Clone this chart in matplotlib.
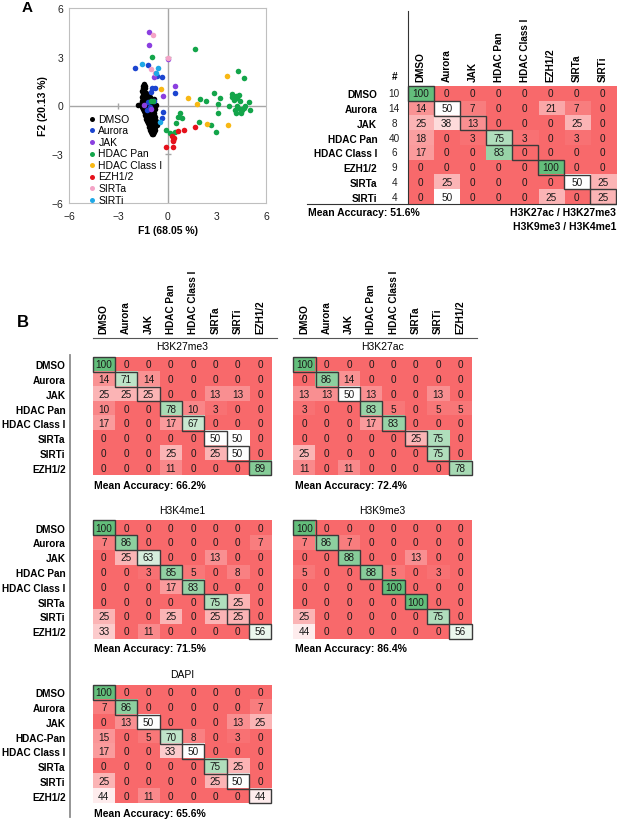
import matplotlib
matplotlib.use("Agg")
import matplotlib.pyplot as plt
import numpy as np
from matplotlib.colors import LinearSegmentedColormap
from matplotlib.patches import Rectangle
from matplotlib.lines import Line2D

plt.rcParams['font.family'] = ['Liberation Sans', 'DejaVu Sans']

# ---------------- data: panel A scatter (PCA scores) ----------------
groups = ["DMSO", "Aurora", "JAK", "HDAC Pan", "HDAC Class I", "EZH1/2", "SIRTa", "SIRTi"]
group_colors = ["#000000", "#1c45d0", "#8b3fe0", "#13a54a", "#f8b814", "#e5111b", "#f4a3c6", "#1fa8e6"]

dmso_pts = [(-1.45, 1.30), (-1.52, 1.20), (-1.40, 1.20), (-1.50, 1.05), (-1.35, 1.05),
            (-1.55, 0.90), (-1.42, 0.90), (-1.48, 0.80), (-1.30, 0.80),
            (-1.52, 0.65), (-1.38, 0.65), (-1.22, 0.65),
            (-1.55, 0.50), (-1.40, 0.50), (-1.25, 0.50), (-1.05, 0.50),
            (-1.48, 0.38), (-1.30, 0.38), (-1.12, 0.38), (-0.85, 0.38),
            (-1.55, 0.25), (-1.38, 0.25), (-1.20, 0.25), (-1.02, 0.25),
            (-1.60, 0.12), (-1.45, 0.12), (-1.28, 0.12), (-1.10, 0.12), (-0.80, 0.12),
            (-1.79, 0.02), (-1.50, 0.02), (-1.35, 0.02), (-1.15, 0.02), (-0.95, 0.02), (-0.72, 0.02),
            (-1.55, -0.10), (-1.40, -0.10), (-1.22, -0.10), (-1.05, -0.10), (-0.85, -0.10),
            (-1.48, -0.22), (-1.30, -0.22), (-1.12, -0.22), (-0.95, -0.22), (-0.75, -0.22),
            (-1.42, -0.35), (-1.25, -0.35), (-1.08, -0.35), (-0.88, -0.35),
            (-1.38, -0.48), (-1.20, -0.48), (-1.00, -0.48), (-0.80, -0.48),
            (-1.35, -0.60), (-1.18, -0.60), (-1.02, -0.60), (-0.85, -0.60),
            (-1.30, -0.72), (-1.12, -0.72), (-0.95, -0.72), (-0.75, -0.72),
            (-1.28, -0.85), (-1.10, -0.85), (-0.92, -0.85),
            (-1.25, -0.97), (-1.05, -0.97), (-0.85, -0.97), (-0.70, -0.97),
            (-1.20, -1.10), (-1.02, -1.10), (-0.88, -1.10),
            (-1.15, -1.22), (-0.98, -1.22), (-0.80, -1.22), (-0.65, -1.22),
            (-1.10, -1.35), (-0.95, -1.35), (-0.78, -1.35),
            (-1.05, -1.48), (-0.90, -1.48), (-0.75, -1.48),
            (-1.00, -1.60), (-0.85, -1.60), (-0.95, -1.75), (-0.88, -1.75)]
aurora_pts = [(-1.96, 2.30), (-1.18, 2.50), (-0.62, 1.80), (-0.32, 1.74), (-0.96, 1.10),
              (-0.75, 1.10), (0.45, 0.75), (-0.98, 0.82), (-1.16, 0.23), (-1.24, -0.29),
              (-0.29, -0.37), (-0.32, -0.74), (-0.80, 0.30), (-1.05, -0.10)]
jak_pts = [(-1.14, 4.51), (-1.10, 3.75), (0.06, 2.87), (-0.83, 1.74), (0.47, 1.19),
           (-0.26, 0.57), (-1.45, 0.02), (-0.98, -0.20)]
hdac_pan_pts = [(1.66, 3.49), (-0.96, 2.97), (4.31, 2.13), (4.68, 1.72), (2.85, 0.78),
                (3.19, 0.49), (1.99, 0.37), (2.34, 0.27), (3.07, 0.10), (3.05, -0.45),
                (3.90, 0.53), (3.95, 0.70), (4.15, 0.60), (4.25, 0.45), (4.35, 0.65),
                (4.40, 0.30), (4.98, 0.23), (4.70, 0.00), (3.74, 0.00), (4.68, -0.14),
                (5.00, -0.25), (4.25, -0.05), (4.40, -0.20), (4.10, -0.25), (4.45, -0.45),
                (4.15, -0.48), (4.55, -0.30), (0.79, -0.49), (0.67, -0.68), (0.91, -0.74),
                (0.51, -1.09), (1.93, -1.00), (2.64, -1.23), (2.97, -1.64), (-0.08, -1.48),
                (0.16, -1.70), (0.43, -1.66), (-0.99, 0.25), (-0.87, 0.30), (4.05, 0.35)]
hdac_c1_pts = [(-0.39, 1.00), (1.26, 0.45), (1.79, 0.10), (3.63, 1.83), (2.40, -1.15), (3.67, -1.17)]
ezh_pts = [(-0.10, -2.54), (0.32, -2.54), (0.35, -2.20), (0.38, -1.99), (0.30, -1.89),
           (0.61, -1.56), (0.98, -1.50), (1.69, -1.33), (0.36, -2.10)]
sirta_pts = [(-0.87, 4.35), (-0.98, 2.26), (-0.77, 2.01), (0.00, 2.95)]
sirti_pts = [(-1.54, 2.57), (-0.57, 2.32), (-0.73, 1.97), (-0.43, -1.03)]
scatter_sets = [dmso_pts, aurora_pts, jak_pts, hdac_pan_pts, hdac_c1_pts, ezh_pts, sirta_pts, sirti_pts]

# ---------------- data: panel A confusion matrix ----------------
a_labels = ["DMSO", "Aurora", "JAK", "HDAC Pan", "HDAC Class I", "EZH1/2", "SIRTa", "SIRTi"]
a_counts = [10, 14, 8, 40, 6, 9, 4, 4]
a_matrix = [[100, 0, 0, 0, 0, 0, 0, 0],
            [14, 50, 7, 0, 0, 21, 7, 0],
            [25, 38, 13, 0, 0, 0, 25, 0],
            [18, 0, 3, 75, 3, 0, 3, 0],
            [17, 0, 0, 83, 0, 0, 0, 0],
            [0, 0, 0, 0, 0, 100, 0, 0],
            [0, 25, 0, 0, 0, 0, 50, 25],
            [0, 50, 0, 0, 0, 25, 0, 25]]

# ---------------- data: panel B confusion matrices ----------------
b_cols = ["DMSO", "Aurora", "JAK", "HDAC Pan", "HDAC Class I", "SIRTa", "SIRTi", "EZH1/2"]
b_rows = ["DMSO", "Aurora", "JAK", "HDAC Pan", "HDAC Class I", "SIRTa", "SIRTi", "EZH1/2"]
b_rows_dapi = ["DMSO", "Aurora", "JAK", "HDAC-Pan", "HDAC Class I", "SIRTa", "SIRTi", "EZH1/2"]

h3k27me3 = [[100, 0, 0, 0, 0, 0, 0, 0],
            [14, 71, 14, 0, 0, 0, 0, 0],
            [25, 25, 25, 0, 0, 13, 13, 0],
            [10, 0, 0, 78, 10, 3, 0, 0],
            [17, 0, 0, 17, 67, 0, 0, 0],
            [0, 0, 0, 0, 0, 50, 50, 0],
            [0, 0, 0, 25, 0, 25, 50, 0],
            [0, 0, 0, 11, 0, 0, 0, 89]]
h3k27ac = [[100, 0, 0, 0, 0, 0, 0, 0],
           [0, 86, 14, 0, 0, 0, 0, 0],
           [13, 13, 50, 13, 0, 0, 13, 0],
           [3, 0, 0, 83, 5, 0, 5, 5],
           [0, 0, 0, 17, 83, 0, 0, 0],
           [0, 0, 0, 0, 0, 25, 75, 0],
           [25, 0, 0, 0, 0, 0, 75, 0],
           [11, 0, 11, 0, 0, 0, 0, 78]]
h3k4me1 = [[100, 0, 0, 0, 0, 0, 0, 0],
           [7, 86, 0, 0, 0, 0, 0, 7],
           [0, 25, 63, 0, 0, 13, 0, 0],
           [0, 0, 3, 85, 5, 0, 8, 0],
           [0, 0, 0, 17, 83, 0, 0, 0],
           [0, 0, 0, 0, 0, 75, 25, 0],
           [25, 0, 0, 25, 0, 25, 25, 0],
           [33, 0, 11, 0, 0, 0, 0, 56]]
h3k9me3 = [[100, 0, 0, 0, 0, 0, 0, 0],
           [7, 86, 7, 0, 0, 0, 0, 0],
           [0, 0, 88, 0, 0, 13, 0, 0],
           [5, 0, 0, 88, 5, 0, 3, 0],
           [0, 0, 0, 0, 100, 0, 0, 0],
           [0, 0, 0, 0, 0, 100, 0, 0],
           [25, 0, 0, 0, 0, 0, 75, 0],
           [44, 0, 0, 0, 0, 0, 0, 56]]
dapi = [[100, 0, 0, 0, 0, 0, 0, 0],
        [7, 86, 0, 0, 0, 0, 0, 7],
        [0, 13, 50, 0, 0, 0, 13, 25],
        [15, 0, 5, 70, 8, 0, 3, 0],
        [17, 0, 0, 33, 50, 0, 0, 0],
        [0, 0, 0, 0, 0, 75, 25, 0],
        [25, 0, 0, 0, 0, 25, 50, 0],
        [44, 0, 11, 0, 0, 0, 0, 44]]
b_titles = ["H3K27me3", "H3K27ac", "H3K4me1", "H3K9me3", "DAPI"]
b_acc = ["66.2%", "72.4%", "71.5%", "86.4%", "65.6%"]

W, H = 617, 820
cmap = LinearSegmentedColormap.from_list("excel3", [(0, "#F8696B"), (0.5, "#FFFFFF"), (1, "#63BE7B")])


def box(left, top, w, h):
    return [left / W, 1 - (top + h) / H, w / W, h / H]


def heat(ax, mat, fs=7.2):
    m = np.array(mat)
    ax.imshow(m, cmap=cmap, vmin=0, vmax=100, aspect='auto')
    n = m.shape[0]
    for i in range(n):
        for j in range(n):
            ax.text(j, i, str(m[i, j]), ha='center', va='center', fontsize=fs, color='#1a1a1a')
        ax.add_patch(Rectangle((i - 0.5, i - 0.5), 1, 1, fill=False, ec='#3a3a3a', lw=1.0, clip_on=False))
    ax.set_xlim(-0.5, n - 0.5)
    ax.set_ylim(n - 0.5, -0.5)
    for s in ax.spines.values():
        s.set_visible(False)
    ax.set_xticks([])
    ax.set_yticks([])


fig = plt.figure(figsize=(W / 100, H / 100), dpi=100)

# ---------------- A: scatter ----------------
axs = fig.add_axes(box(69, 9, 197, 195))
for pts, lab, col in zip(scatter_sets, groups, group_colors):
    xs = [p[0] for p in pts]
    ys = [p[1] for p in pts]
    axs.scatter(xs, ys, s=16, color=col, label=lab, linewidths=0, zorder=3)
axs.set_xlim(-6, 6)
axs.set_ylim(-6, 6)
axs.axhline(0, color='#a6a6a6', lw=1.0, zorder=1)
axs.axvline(0, color='#a6a6a6', lw=1.0, zorder=1)
axs.plot([-3, 3], [0, 0], ls='none', marker='|', ms=5, color='#a6a6a6', mew=1.0, zorder=1)
axs.plot([0, 0], [-3, 3], ls='none', marker='_', ms=5, color='#a6a6a6', mew=1.0, zorder=1)
axs.set_xticks([-6, -3, 0, 3, 6])
axs.set_yticks([-6, -3, 0, 3, 6])
axs.tick_params(length=0, labelsize=7.5, colors='#222222')
axs.tick_params(axis='x', pad=6)
axs.tick_params(axis='y', pad=4)
for s in axs.spines.values():
    s.set_color('#bfbfbf')
    s.set_linewidth(0.8)
axs.set_xlabel("F1 (68.05 %)", fontsize=7.5, fontweight='bold', labelpad=3)
axs.set_ylabel("F2 (20.13 %)", fontsize=7.5, fontweight='bold', labelpad=3)
axs.legend(loc='upper left', bbox_to_anchor=(0.075, 0.485), frameon=False, fontsize=7.5,
           handlelength=0.6, handletextpad=0.3, labelspacing=0.15, borderpad=0, markerscale=0.9)
fig.text(27 / W, 1 - 8 / H, "A", fontsize=11, fontweight='bold', ha='center', va='center')

# ---------------- A: confusion matrix ----------------
axa = fig.add_axes(box(407.7, 87, 208, 118))
heat(axa, a_matrix)
axa.xaxis.tick_top()
axa.set_xticks(range(8))
axa.set_xticklabels(a_labels, rotation=90, fontsize=7.2, fontweight='bold', va='bottom')
axa.set_yticks(range(8))
axa.set_yticklabels(a_labels, fontsize=7.2, fontweight='bold')
axa.tick_params(length=0)
axa.tick_params(axis='x', pad=3.5)
axa.tick_params(axis='y', pad=22)
for i, c in enumerate(a_counts):
    axa.text(-1.02, i, str(c), ha='center', va='center', fontsize=7.2, color='#222222')
axa.text(-1.02, -1.18, "#", ha='center', va='center', fontsize=7.2, fontweight='bold')
axa.plot([-0.5, -0.5], [7.5, -5.6], color='#333333', lw=0.8, clip_on=False)
axa.plot([-4.37, 7.55], [7.5, 7.5], color='#333333', lw=0.8, clip_on=False)
axa.text(-4.33, 8.04, "Mean Accuracy: 51.6%", ha='left', va='center', fontsize=7.5, fontweight='bold')
axa.text(7.52, 8.04, "H3K27ac / H3K27me3", ha='right', va='center', fontsize=7.5, fontweight='bold')
axa.text(7.52, 9.0, "H3K9me3 / H3K4me1", ha='right', va='center', fontsize=7.5, fontweight='bold')

# ---------------- B: confusion matrices ----------------
fig.text(23 / W, 1 - 323 / H, "B", fontsize=12, fontweight='bold', ha='center', va='center')
b_mats = [h3k27me3, h3k27ac, h3k4me1, h3k9me3, dapi]
b_pos = [(92.7, 357.9), (293.2, 357.9), (92.7, 521.3), (293.2, 521.3), (92.7, 685.9)]
for k, (mat, (bl, bt)) in enumerate(zip(b_mats, b_pos)):
    ax = fig.add_axes(box(bl, bt, 178.4, 118.4))
    heat(ax, mat)
    ax.text(3.5, -1.22, b_titles[k], ha='center', va='center', fontsize=7.5)
    ax.text(-0.43, 8.16, "Mean Accuracy: " + b_acc[k], ha='left', va='center', fontsize=7.5, fontweight='bold')
    if k < 2:
        ax.xaxis.tick_top()
        ax.set_xticks(range(8))
        ax.set_xticklabels(b_cols, rotation=90, fontsize=7.2, fontweight='bold', va='bottom')
        ax.tick_params(axis='x', length=0, pad=17)
        ax.plot([-0.5, 7.75], [-1.78, -1.78], color='#555555', lw=0.8, clip_on=False)
    if bl < 200:
        ax.set_yticks(range(8))
        ax.set_yticklabels(b_rows_dapi if k == 4 else b_rows, fontsize=7.2, fontweight='bold')
        ax.tick_params(axis='y', length=0, pad=19.5)

fig.add_artist(Line2D([70 / W, 70 / W], [1 - 356 / H, 1 - 818 / H], color='#8c8c8c', lw=1.3))

fig.savefig("out.png", dpi=100)
